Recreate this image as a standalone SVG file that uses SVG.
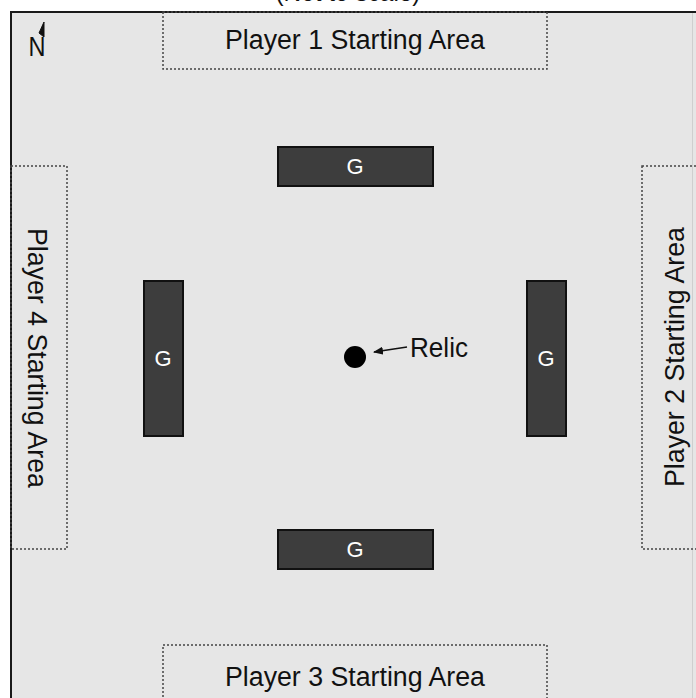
<svg xmlns="http://www.w3.org/2000/svg" width="696" height="698" viewBox="0 0 696 698">
<style>
.lbl{font-family:"Liberation Sans",Arial,sans-serif;font-size:27px;fill:#111;text-anchor:middle;dominant-baseline:central}
.area{fill:none;stroke:#444;stroke-width:1.5;stroke-dasharray:2 2}
.wall{fill:#3d3d3d;stroke:#111;stroke-width:2}
.g{font-family:"Liberation Sans",Arial,sans-serif;font-size:22px;fill:#fff;text-anchor:middle;dominant-baseline:central}
</style>
<defs>
<marker id="ah" markerWidth="10" markerHeight="8" refX="9" refY="4" orient="auto" markerUnits="userSpaceOnUse">
<path d="M0,0 L10,4 L0,8 Z" fill="#111"/>
</marker>
</defs>
<rect width="696" height="698" fill="#fff"/>
<text x="348" y="1" font-family="Liberation Sans,Arial,sans-serif" font-size="26" fill="#111" text-anchor="middle" textLength="145" lengthAdjust="spacingAndGlyphs">(Not to scale)</text>
<rect x="11" y="12" width="720" height="720" fill="#e6e6e6" stroke="#1a1a1a" stroke-width="2"/>
<line x1="692.5" y1="13" x2="692.5" y2="698" stroke="#cfcfcf" stroke-width="1"/>
<g id="north">
<text x="37" y="56" font-family="Liberation Sans,Arial,sans-serif" font-size="28" fill="#111" text-anchor="middle" textLength="17" lengthAdjust="spacingAndGlyphs">N</text>
<path d="M44,37 L44,22 L39,33 Z" fill="#111" stroke="#111" stroke-width="1"/>
</g>
<g id="p1">
<rect class="area" x="163" y="12" width="384" height="57"/>
<text class="lbl" x="355" y="40" textLength="260" lengthAdjust="spacingAndGlyphs">Player 1 Starting Area</text>
</g>
<g id="p3">
<rect class="area" x="163" y="645" width="384" height="70"/>
<text class="lbl" x="355" y="677" textLength="260" lengthAdjust="spacingAndGlyphs">Player 3 Starting Area</text>
</g>
<g id="p4">
<rect class="area" x="11" y="166" width="56" height="383"/>
<text class="lbl" transform="translate(37,358) rotate(90)" x="0" y="0" textLength="260" lengthAdjust="spacingAndGlyphs">Player 4 Starting Area</text>
</g>
<g id="p2">
<rect class="area" x="642" y="166" width="70" height="383"/>
<text class="lbl" transform="translate(675,357) rotate(-90)" x="0" y="0" textLength="260" lengthAdjust="spacingAndGlyphs">Player 2 Starting Area</text>
</g>
<g id="g-top">
<rect class="wall" x="278" y="147" width="155" height="39"/>
<text class="g" x="355" y="166">G</text>
</g>
<g id="g-bottom">
<rect class="wall" x="278" y="530" width="155" height="39"/>
<text class="g" x="355" y="549">G</text>
</g>
<g id="g-left">
<rect class="wall" x="144" y="281" width="39" height="155"/>
<text class="g" x="163" y="358">G</text>
</g>
<g id="g-right">
<rect class="wall" x="527" y="281" width="39" height="155"/>
<text class="g" x="546" y="358">G</text>
</g>
<g id="relic">
<circle cx="355" cy="357" r="11" fill="#000"/>
<text class="lbl" x="410" y="348" style="text-anchor:start" textLength="58" lengthAdjust="spacingAndGlyphs">Relic</text>
</g>
<g id="connectors">
<line x1="407" y1="347" x2="374" y2="352" stroke="#111" stroke-width="1.5" marker-end="url(#ah)"/>
</g>
</svg>
